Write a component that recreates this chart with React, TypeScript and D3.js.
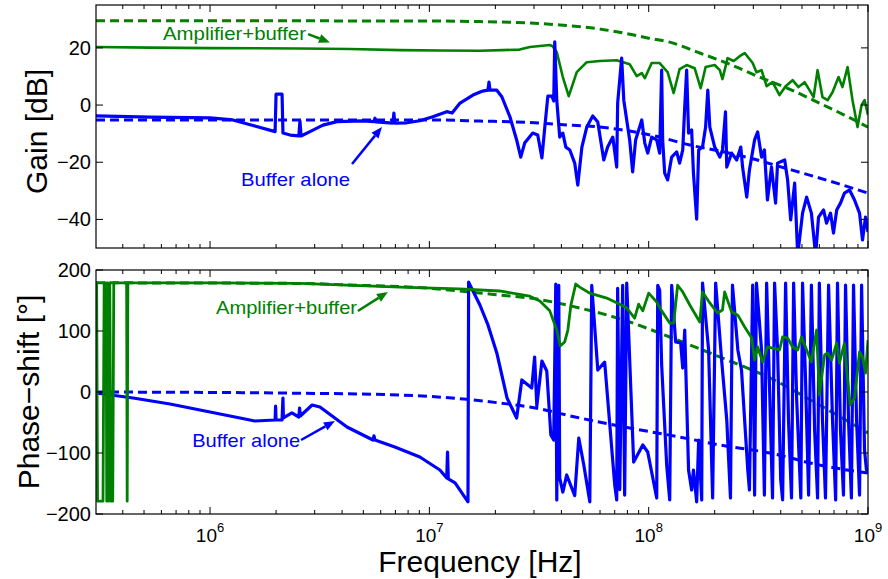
import React from 'react';
import * as d3 from 'd3';

type P = [number, number];

// ---------- data: [frequency Hz, value] ----------
const gainAmp: P[] = [
  [3.02e5, 20.3], [5.33e5, 20.1], [1e6, 19.9], [2.57e6, 19.8], [4.34e6, 19.6], [7.34e6, 19.2],
  [1.12e7, 19.1], [1.7e7, 19.0], [2.58e7, 19.4], [2.87e7, 20.3], [3.54e7, 21.0], [3.65e7, 20.6],
  [3.81e7, 18.5], [4.06e7, 9.8], [4.32e7, 3.1], [4.7e7, 11.5], [5.22e7, 15.0], [5.98e7, 15.4],
  [7.15e7, 15.7], [8.19e7, 14.3], [8.82e7, 10.1], [9.3e7, 11.2], [9.6e7, 9.4], [1.032e8, 14.7],
  [1.122e8, 14.7], [1.22e8, 11.5], [1.3e8, 4.2], [1.384e8, 12.6], [1.49e8, 14.0], [1.62e8, 12.9],
  [1.726e8, 5.9], [1.818e8, 13.3], [2.0e8, 14.0], [2.11e8, 12.2], [2.17e8, 9.1], [2.29e8, 16.4],
  [2.44e8, 15.4], [2.6e8, 17.1], [2.74e8, 18.2], [2.98e8, 14.7], [3.1e8, 11.5], [3.27e8, 12.2],
  [3.45e8, 6.6], [3.67e8, 8.0], [3.95e8, 3.5], [4.21e8, 6.6], [4.53e8, 8.7], [4.82e8, 6.3],
  [5.14e8, 8.0], [5.41e8, 5.2], [5.65e8, 2.8], [5.89e8, 12.2], [6.2e8, 2.8], [6.54e8, 1.7],
  [6.89e8, 4.5], [7.34e8, 9.8], [7.65e8, 6.3], [8.07e8, 13.3], [8.5e8, 1.7], [8.96e8, -7.7],
  [9.35e8, 0], [9.65e8, 1.7], [1e9, -3.5],
];

const gainAmpModel: P[] = [
  [3.02e5, 29.5], [1e7, 29.4], [1.7e7, 29.2], [2.87e7, 28.7], [3.95e7, 28.0], [5.98e7, 26.6],
  [8.19e7, 24.8], [1e8, 23.4], [1.247e8, 22.0], [1.71e8, 18.2], [2.34e8, 14.3], [3.2e8, 9.8],
  [4.38e8, 5.6], [6.0e8, 0.7], [7.8e8, -3.5], [1e9, -7.7],
];

const gainBuf: P[] = [
  [3.02e5, -3.8], [5.33e5, -4.2], [1e6, -4.5], [1.27e6, -5.2], [1.6e6, -7.3], [1.98e6, -9.3],
  [2.0e6, 3.8], [2.13e6, 3.8], [2.15e6, -9.8], [2.32e6, -10.5], [2.54e6, -10.8], [2.57e6, -5.6],
  [2.6e6, -10.8], [2.855e6, -9.3], [3.27e6, -7.0], [3.79e6, -5.8], [4.98e6, -5.5], [5.59e6, -5.8],
  [5.65e6, -4.6], [5.7e6, -5.9], [6.82e6, -6.3], [6.89e6, -2.8], [6.96e6, -6.3], [7.9e6, -6.2],
  [9.05e6, -5.5], [1.037e7, -4.1], [1.2e7, -2.3], [1.27e7, -2.8], [1.38e7, 0.7], [1.58e7, 3.5],
  [1.75e7, 4.9], [1.85e7, 5.2], [1.87e7, 8.0], [1.89e7, 5.2], [2.03e7, 5.2], [2.14e7, 2.9],
  [2.33e7, -4.1], [2.5e7, -12.2], [2.61e7, -18.2], [2.72e7, -13.3], [2.96e7, -9.8], [3.12e7, -10.5],
  [3.26e7, -18.5], [3.36e7, -7.7], [3.47e7, 3.1], [3.62e7, 3.1], [3.69e7, 1.4], [3.73e7, 22.1],
  [3.81e7, 1.7], [3.93e7, -11.2], [4.06e7, -9.8], [4.19e7, -14.7], [4.37e7, -15.7], [4.6e7, -20.3],
  [4.75e7, -28.0], [4.96e7, -14.7], [5.22e7, -7.7], [5.56e7, -3.8], [5.86e7, -5.9], [6.24e7, -19.2],
  [6.5e7, -14.7], [6.86e7, -11.2], [7.15e7, -21.7], [7.22e7, 0.7], [7.53e7, 16.4], [7.7e7, 1.7],
  [7.94e7, -5.2], [8.19e7, -12.2], [8.45e7, -23.4], [8.72e7, -12.2], [9.3e7, -5.2], [9.6e7, -13.3],
  [9.9e7, -16.8], [1.032e8, -11.2], [1.088e8, -12.2], [1.122e8, -16.8], [1.146e8, 12.2], [1.158e8, -12.2],
  [1.183e8, -23.8], [1.22e8, -26.2], [1.273e8, -18.2], [1.342e8, -16.4], [1.384e8, -20.3], [1.43e8, -15.7],
  [1.46e8, -0.7], [1.49e8, 12.2], [1.52e8, -9.8], [1.57e8, -8.7], [1.6e8, -23.8], [1.655e8, -39.9],
  [1.69e8, -15.7], [1.76e8, -14.7], [1.818e8, -7.7], [1.86e8, 5.2], [1.9e8, -7.7], [2.0e8, -14.7],
  [2.11e8, -18.2], [2.17e8, -15.7], [2.24e8, -2.4], [2.27e8, -21.7], [2.39e8, -16.8], [2.52e8, -19.2],
  [2.63e8, -14.7], [2.68e8, -21.7], [2.8e8, -32.2], [2.88e8, -22.7], [3.04e8, -12.2], [3.14e8, -9.4],
  [3.27e8, -18.2], [3.37e8, -15.7], [3.48e8, -33.2], [3.63e8, -21.7], [3.79e8, -34.3], [3.87e8, -20.3],
  [4.17e8, -19.2], [4.3e8, -26.2], [4.44e8, -40.2], [4.63e8, -27.3], [4.78e8, -52.5], [5.03e8, -37.8],
  [5.25e8, -32.2], [5.52e8, -37.8], [5.77e8, -52.5], [5.95e8, -39.2], [6.27e8, -36.7], [6.47e8, -41.3],
  [6.75e8, -37.8], [6.96e8, -44.8], [7.2e8, -36.7], [7.49e8, -34.3], [7.81e8, -30.8], [8.24e8, -29.7],
  [8.68e8, -33.2], [9.15e8, -37.8], [9.44e8, -47.2], [9.74e8, -39.2], [1e9, -44.4],
];

const gainBufModel: P[] = [
  [3.02e5, -5.2], [1e7, -5.2], [1.7e7, -5.6], [2.87e7, -6.1], [3.95e7, -6.8], [5.98e7, -7.7],
  [8.19e7, -9.1], [1.122e8, -11.2], [1.54e8, -14.0], [2.11e8, -16.1], [2.88e8, -18.5],
  [4.17e8, -22.0], [6.0e8, -25.5], [1e9, -30.8],
];

const phaseAmp: P[] = [
  [3.02e5, 179], [3.04e5, 179], [3.07e5, -179], [3.25e5, -179], [3.29e5, 179], [3.36e5, 179],
  [3.38e5, -179], [3.42e5, 179], [3.45e5, -179], [3.49e5, 179], [3.53e5, -179], [3.6e5, -179],
  [3.64e5, 179], [4.165e5, 179], [4.19e5, -179], [4.22e5, 179], [1e6, 179], [2.57e6, 178],
  [7.34e6, 172], [1.37e7, 169], [2.09e7, 165.6], [2.87e7, 157], [3.19e7, 149], [3.54e7, 133],
  [3.81e7, 101.6], [3.95e7, 75.4], [4.14e7, 82], [4.28e7, 101.6], [4.42e7, 142.6], [4.65e7, 177],
  [4.85e7, 172], [5.39e7, 162], [6.44e7, 154], [7.38e7, 144], [7.94e7, 137.7], [8.63e7, 121],
  [9.0e7, 144], [9.4e7, 133], [1e8, 162], [1.088e8, 147.5], [1.146e8, 133], [1.247e8, 113],
  [1.3e8, 113], [1.355e8, 175], [1.43e8, 164], [1.54e8, 142.6], [1.71e8, 114.8], [1.76e8, 164],
  [1.9e8, 146], [2.06e8, 129.5], [2.17e8, 134.4], [2.22e8, 164], [2.39e8, 131], [2.55e8, 126],
  [2.74e8, 106.6], [2.95e8, 88.5], [3.04e8, 52.5], [3.14e8, 73.8], [3.31e8, 49.2], [3.48e8, 73.8],
  [3.67e8, 72], [3.95e8, 68.9], [4.08e8, 90.2], [4.3e8, 88.5], [4.53e8, 73.8], [4.78e8, 68.9],
  [4.98e8, 90.2], [5.25e8, 68.9], [5.52e8, 49.2], [5.83e8, 101.6], [6.0e8, -4.9], [6.34e8, 60.7],
  [6.54e8, 63.9], [6.82e8, 52.5], [7.2e8, 80.3], [7.41e8, 47.5], [7.81e8, 80.3], [8.07e8, 19.7],
  [8.3e8, -21], [8.68e8, -9.8], [9.15e8, 65.6], [9.44e8, 57.4], [9.74e8, 31], [1e9, 85],
];

const phaseAmpModel: P[] = [
  [3.02e5, 179], [2.57e6, 178], [4.34e6, 175.4], [1e7, 170], [1.48e7, 164.4], [2.09e7, 159],
  [2.87e7, 154], [4.85e7, 137.7], [8.19e7, 114.8], [1.247e8, 90.2], [2.11e8, 57.4],
  [3.57e8, 23], [6.0e8, -21.3], [1e9, -67.2],
];

const phaseBuf: P[] = [
  [3.02e5, -1.6], [4.46e5, -9.8], [6.57e5, -19.7], [9.0e5, -29.5], [1.37e6, -42.6], [1.6e6, -47.5],
  [1.98e6, -45.9], [1.99e6, -23], [2.0e6, -45.9], [2.13e6, -45.9], [2.15e6, -9.8], [2.16e6, -42.6],
  [2.36e6, -34.4], [2.54e6, -41], [2.56e6, -26.2], [2.58e6, -39.3], [2.92e6, -21.3], [3.17e6, -24.6],
  [4.21e6, -57.4], [5.53e6, -78.7], [5.59e6, -72], [5.65e6, -78.7], [6.96e6, -90.2], [9.05e6, -106.6],
  [1.117e7, -127.9], [1.2e7, -141], [1.21e7, -98.4], [1.22e7, -142.6], [1.31e7, -149], [1.5e7, -180],
  [1.51e7, 180], [1.7e7, 142.6], [1.85e7, 110], [2.03e7, 64], [2.26e7, -9.8], [2.5e7, -42.6],
  [2.64e7, 19.7], [2.93e7, 6.6], [3.02e7, 57.4], [3.09e7, -23], [3.26e7, 50.8], [3.43e7, 34.4],
  [3.58e7, -70.5], [3.69e7, -78.7], [3.77e7, 177], [3.81e7, -177], [3.89e7, 175], [3.93e7, -141],
  [4.06e7, -164], [4.23e7, -136], [4.6e7, -170], [4.8e7, -75.4], [5.06e7, -119.7], [5.39e7, -180],
  [5.5e7, 175], [5.86e7, 36], [6.3e7, 49], [7e7, -152], [7.15e7, -177], [7.22e7, 170],
  [7.38e7, -160], [7.61e7, 175], [7.77e7, -169], [7.94e7, 178.7], [8.54e7, -114.8], [9.4e7, -86.9],
  [9.9e7, -98.4], [1.088e8, -173.8], [1.1e8, 175], [1.122e8, 167], [1.146e8, 44], [1.208e8, -119.7],
  [1.247e8, -177], [1.273e8, 175], [1.327e8, 82], [1.399e8, 80.3], [1.43e8, 39.3], [1.46e8, 101.6],
  [1.52e8, -127.9], [1.57e8, -160.7], [1.6e8, -127.9], [1.655e8, -180], [1.69e8, -78.7], [1.745e8, -177],
  [1.76e8, 178.7], [1.876e8, 68.9], [1.957e8, -173.8], [2.02e8, 178.7], [2.15e8, 52.5], [2.27e8, -45.9],
  [2.36e8, -173.8], [2.41e8, 175.4], [2.55e8, 68.9], [2.65e8, 36], [2.83e8, -127.9], [2.88e8, -160.7],
  [2.98e8, 175.4], [3.04e8, -168.9], [3.1e8, 178.7], [3.27e8, 68.9], [3.37e8, -168.9], [3.45e8, 178.7],
  [3.57e8, -13.1], [3.67e8, -173.8], [3.75e8, 178.7], [3.87e8, 68.9], [4.0e8, -144], [4.08e8, -177],
  [4.21e8, 178.7], [4.34e8, -45.9], [4.48e8, -173.8], [4.58e8, 178.7], [4.73e8, -13.1], [4.94e8, -173.8],
  [5.03e8, 178.7], [5.19e8, 19.7], [5.36e8, -168.9], [5.52e8, 175.4], [5.71e8, -62.3], [5.89e8, -173.8],
  [6.0e8, 178.7], [6.2e8, -45.9], [6.4e8, -173.8], [6.61e8, 175.4], [6.89e8, -45.9], [7.12e8, -177],
  [7.26e8, 178.7], [7.49e8, -62.3], [7.73e8, -168.9], [7.9e8, 175.4], [8.15e8, -45.9], [8.4e8, -173.8],
  [8.59e8, 175.4], [8.87e8, -45.9], [9.15e8, -168.9], [9.35e8, 175.4], [9.64e8, -95], [9.84e8, -128],
  [1e9, -130],
];

const phaseBufModel: P[] = [
  [3.02e5, 0], [2.57e6, -2], [7.34e6, -5], [1.48e7, -12], [2.09e7, -18], [2.87e7, -24.6],
  [4.85e7, -42.6], [8.19e7, -59], [1.384e8, -73.8], [2.11e8, -86.9], [3.57e8, -100],
  [6.0e8, -119.7], [1e9, -133],
];

const gainTicks = [-40, -20, 0, 20];
const phaseTicks = [-200, -100, 0, 100, 200];
const decadeExps = [6, 7, 8, 9];
const freqDomain: P = [3.02e5, 1e9];

// ---------- layout ----------
const W = 888, H = 579;
const X0 = 96, X1 = 868;
const TOP = { y0: 5, y1: 248 };
const BOT = { y0: 270, y1: 514 };
const GREEN = '#008000';
const BLUE = '#0000ff';
const FONT = "'Liberation Sans', Arial, Helvetica, sans-serif";

function Arrow({ x1, y1, x2, y2, color }: { x1: number; y1: number; x2: number; y2: number; color: string }) {
  const a = Math.atan2(y2 - y1, x2 - x1);
  const L = 11, hw = 4.5;
  const bx = x2 - L * Math.cos(a), by = y2 - L * Math.sin(a);
  const px = -Math.sin(a), py = Math.cos(a);
  const pts = `${x2},${y2} ${bx + px * hw},${by + py * hw} ${bx - px * hw},${by - py * hw}`;
  return (
    <g>
      <line x1={x1} y1={y1} x2={bx} y2={by} stroke={color} strokeWidth={2.5} />
      <polygon points={pts} fill={color} />
    </g>
  );
}

export default function App() {
  const x = d3.scaleLog().domain(freqDomain).range([X0, X1]);
  const yG = d3.scaleLinear().domain([-50, 35]).range([TOP.y1, TOP.y0]);
  const yP = d3.scaleLinear().domain([-200, 200]).range([BOT.y1, BOT.y0]);

  const lg = d3.line<P>().x(d => x(d[0])).y(d => yG(d[1]));
  const lp = d3.line<P>().x(d => x(d[0])).y(d => yP(d[1]));
  const lgS = d3.line<P>().x(d => x(d[0])).y(d => yG(d[1])).curve(d3.curveMonotoneX);
  const lpS = d3.line<P>().x(d => x(d[0])).y(d => yP(d[1])).curve(d3.curveMonotoneX);

  const minor: number[] = [];
  for (let e = 5; e <= 8; e++) for (let k = 2; k <= 9; k++) {
    const f = k * Math.pow(10, e);
    if (f > freqDomain[0] && f < freqDomain[1]) minor.push(f);
  }
  const major = decadeExps.map(e => Math.pow(10, e));

  const xTicks = (p: { y0: number; y1: number }, key: string) => (
    <g key={key} stroke="#000" strokeWidth={1}>
      {major.map(f => (
        <g key={f}>
          <line x1={x(f)} x2={x(f)} y1={p.y1} y2={p.y1 - 7} />
          <line x1={x(f)} x2={x(f)} y1={p.y0} y2={p.y0 + 7} />
        </g>
      ))}
      {minor.map(f => (
        <g key={f}>
          <line x1={x(f)} x2={x(f)} y1={p.y1} y2={p.y1 - 4} />
          <line x1={x(f)} x2={x(f)} y1={p.y0} y2={p.y0 + 4} />
        </g>
      ))}
    </g>
  );

  const yTicks = (vals: number[], y: (v: number) => number, key: string) => (
    <g key={key}>
      {vals.map(v => (
        <g key={v}>
          <line x1={X0} x2={X0 + 7} y1={y(v)} y2={y(v)} stroke="#000" />
          <line x1={X1} x2={X1 - 7} y1={y(v)} y2={y(v)} stroke="#000" />
          <text x={91} y={y(v)} textAnchor="end" dominantBaseline="central" fontSize={20} fontFamily={FONT}>
            {v < 0 ? '\u2212' + Math.abs(v) : String(v)}
          </text>
        </g>
      ))}
    </g>
  );

  return (
    <svg width={W} height={H} style={{ position: 'absolute', left: 0, top: 0, background: '#fff' }}>
      <defs>
        <clipPath id="clipTop"><rect x={X0} y={TOP.y0} width={X1 - X0} height={TOP.y1 - TOP.y0} /></clipPath>
        <clipPath id="clipBot"><rect x={X0} y={BOT.y0} width={X1 - X0} height={BOT.y1 - BOT.y0} /></clipPath>
      </defs>
      <rect x={0} y={0} width={W} height={H} fill="#fff" />

      {/* top panel */}
      <g clipPath="url(#clipTop)" fill="none" strokeLinejoin="round" strokeLinecap="butt">
        <path d={lgS(gainBufModel) || ''} stroke={BLUE} strokeWidth={3} strokeDasharray="9,5" />
        <path d={lgS(gainAmpModel) || ''} stroke={GREEN} strokeWidth={3} strokeDasharray="9,5" />
        <path d={lg(gainAmp) || ''} stroke={GREEN} strokeWidth={2.6} />
        <path d={lg(gainBuf) || ''} stroke={BLUE} strokeWidth={3.2} />
      </g>
      <rect x={X0} y={TOP.y0} width={X1 - X0} height={TOP.y1 - TOP.y0} fill="none" stroke="#000" strokeWidth={1.2} />
      {xTicks(TOP, 'xt1')}
      {yTicks(gainTicks, yG, 'yt1')}

      {/* bottom panel */}
      <g clipPath="url(#clipBot)" fill="none" strokeLinejoin="round" strokeLinecap="butt">
        <path d={lpS(phaseBufModel) || ''} stroke={BLUE} strokeWidth={3} strokeDasharray="9,5" />
        <path d={lpS(phaseAmpModel) || ''} stroke={GREEN} strokeWidth={3} strokeDasharray="9,5" />
        <path d={lp(phaseBuf) || ''} stroke={BLUE} strokeWidth={3.2} />
        <path d={lp(phaseAmp) || ''} stroke={GREEN} strokeWidth={2.8} />
      </g>
      <rect x={X0} y={BOT.y0} width={X1 - X0} height={BOT.y1 - BOT.y0} fill="none" stroke="#000" strokeWidth={1.2} />
      {xTicks(BOT, 'xt2')}
      {yTicks(phaseTicks, yP, 'yt2')}

      {/* x tick labels */}
      {decadeExps.map(e => (
        <text key={e} x={x(Math.pow(10, e))} y={542} textAnchor="middle" fontSize={19} fontFamily={FONT}>
          <tspan>10</tspan>
          <tspan dy={-10} fontSize={13}>{e}</tspan>
        </text>
      ))}

      {/* axis labels */}
      <text x={480} y={572} textAnchor="middle" fontSize={30} fontFamily={FONT}>Frequency [Hz]</text>
      <text transform={`translate(47,${(TOP.y0 + TOP.y1) / 2 + 5}) rotate(-90)`} textAnchor="middle" fontSize={30} fontFamily={FONT}>Gain [dB]</text>
      <text transform={`translate(39,${(BOT.y0 + BOT.y1) / 2}) rotate(-90)`} textAnchor="middle" fontSize={30} fontFamily={FONT}>Phase{'\u2212'}shift [°]</text>

      {/* annotations */}
      <text x={x(6.1e5)} y={yG(22.7)} fontSize={19} fill={GREEN} fontFamily={FONT} textLength={143} lengthAdjust="spacingAndGlyphs">Amplifier+buffer</text>
      <Arrow x1={x(2.8e6)} y1={yG(24.8)} x2={x(3.52e6)} y2={yG(21.9)} color={GREEN} />
      <text x={x(1.384e6)} y={yG(-28.3)} fontSize={19} fill={BLUE} fontFamily={FONT} textLength={109} lengthAdjust="spacingAndGlyphs">Buffer alone</text>
      <Arrow x1={x(4.44e6)} y1={yG(-20.6)} x2={x(6.08e6)} y2={yG(-7.7)} color={BLUE} />

      <text x={x(1.065e6)} y={yP(127.9)} fontSize={19} fill={GREEN} fontFamily={FONT} textLength={141} lengthAdjust="spacingAndGlyphs">Amplifier+buffer</text>
      <Arrow x1={x(4.72e6)} y1={yP(132.8)} x2={x(6.47e6)} y2={yP(163.9)} color={GREEN} />
      <text x={x(8.29e5)} y={yP(-90.2)} fontSize={19} fill={BLUE} fontFamily={FONT} textLength={108} lengthAdjust="spacingAndGlyphs">Buffer alone</text>
      <Arrow x1={x(2.6e6)} y1={yP(-78.7)} x2={x(3.71e6)} y2={yP(-47.5)} color={BLUE} />
    </svg>
  );
}
